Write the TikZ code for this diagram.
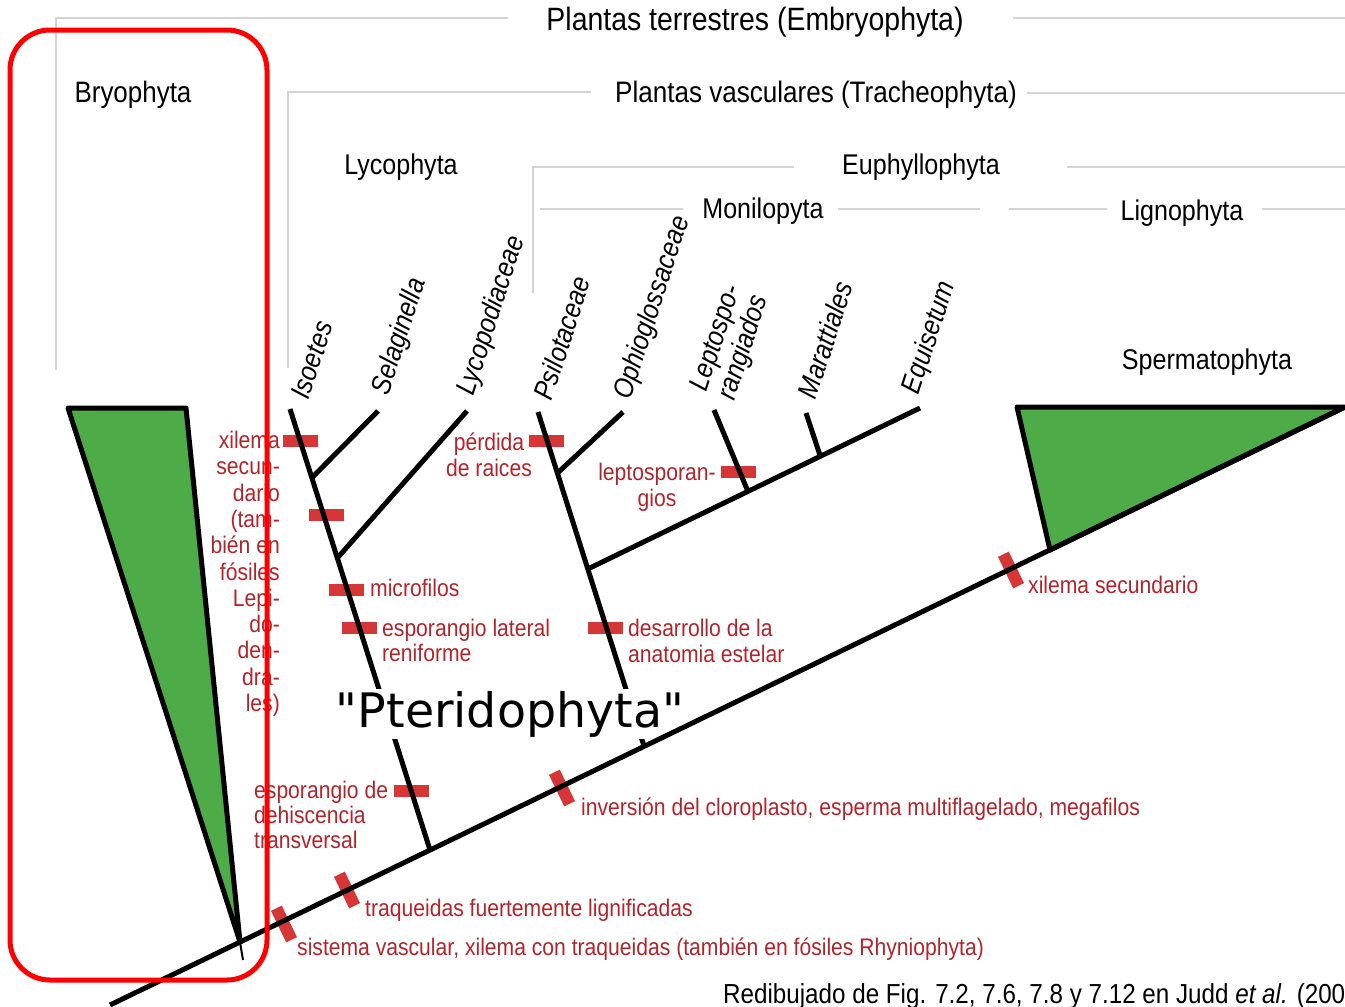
\documentclass[tikz,border=0pt]{standalone}
\usepackage{fontspec}
\setmainfont{Liberation Sans}
\newfontfamily\nf[FakeStretch=0.88]{Liberation Sans}
\newfontfamily\dv{DejaVu Sans}
\usetikzlibrary{calc}
\definecolor{labc}{RGB}{178,36,42}
\definecolor{mk}{RGB}{214,54,54}
\definecolor{grn}{RGB}{78,172,72}
\definecolor{hl}{RGB}{212,212,212}
\begin{document}
\begin{tikzpicture}[x=1pt,y=-1pt,
  hdr/.style={font=\nf\fontsize{28.5}{30}\selectfont, inner sep=0},
  lab/.style={font=\nf\fontsize{24}{26}\selectfont, text=labc, inner sep=0},
  taxon/.style={font=\nf\itshape\fontsize{28}{29}\selectfont, inner sep=0, rotate=72},
  hbar/.style={rectangle, fill=mk, draw=none, minimum width=35pt, minimum height=12pt, inner sep=0},
  tbar/.style={rectangle, fill=mk, draw=none, minimum width=12pt, minimum height=35pt, inner sep=0, rotate=25.8},
  stem/.style={line width=5pt},
  guide/.style={draw=hl, line width=1.6pt},
  clade/.style={fill=grn, draw=black, line width=5pt, line join=round}
]
\useasboundingbox (0,0) rectangle (1345,1007);
\clip (0,0) rectangle (1345,1007);

% ---------- header guide lines ----------
\draw[guide] (56,370) -- (56,18) -- (508,18);
\draw[guide] (1013,18) -- (1345,18);
\draw[guide] (288,368) -- (288,92) -- (591,92);
\draw[guide] (1027,93) -- (1345,93);
\draw[guide] (533,293) -- (533,167) -- (794,167);
\draw[guide] (1067,167) -- (1345,167);
\draw[guide] (540,209) -- (683,209);
\draw[guide] (838,209) -- (980,209);
\draw[guide] (1009,209) -- (1107,209);
\draw[guide] (1262,209) -- (1345,209);

% ---------- coordinates ----------
\coordinate (B0) at (110,1005);
\coordinate (B1) at (1345,407);
\coordinate (L0) at (290,409);
\coordinate (L1) at (430,850);
\coordinate (E0) at (538,412);
\coordinate (E1) at (644,746);
\coordinate (jSel) at ($(L0)!0.156!(L1)$);
\coordinate (jLyc) at ($(L0)!0.338!(L1)$);
\coordinate (tSel) at (378,411);
\coordinate (tLyc) at (467,411);
\coordinate (jOph) at ($(E0)!0.183!(E1)$);
\coordinate (jFern) at ($(E0)!0.470!(E1)$);
\coordinate (tOph) at (623,412);
\coordinate (tEqu) at (920,408);
\coordinate (jLep) at ($(jFern)!0.482!(tEqu)$);
\coordinate (jMar) at ($(jFern)!0.700!(tEqu)$);
\coordinate (tLep) at (714,410);
\coordinate (tMar) at (806,413);
\coordinate (bryTip) at (240,942);
\coordinate (bryEnd) at (243,960);

% ---------- character bars ----------
\node[hbar] (b1) at (300,441) {};
\node[hbar] (b2) at (326,515) {};
\node[hbar] (b3) at (346,590) {};
\node[hbar] (b4) at (359,628) {};
\node[hbar] (b5) at (546,441) {};
\node[hbar] (b6) at (738,472) {};
\node[hbar] (b7) at (605,628) {};
\node[hbar] (b8) at (411,791) {};
\node[tbar] (m1) at (284,924) {};
\node[tbar] (m2) at (347,890) {};
\node[tbar] (m3) at (562,788) {};
\node[tbar] (m4) at (1011,570) {};

% ---------- clade triangles ----------
\draw[line width=2pt] (bryTip) -- (bryEnd);
\draw[clade] (68,408) -- (186,408) -- (bryTip) -- cycle;
\draw[clade] (1017,407) -- (1345,407) -- (1050,550) -- cycle;

% ---------- stems ----------
\draw[stem] (L0) -- (L1);
\draw[stem] (jSel) -- (tSel);
\draw[stem] (jLyc) -- (tLyc);
\draw[stem] (E0) -- (E1);
\draw[stem] (jOph) -- (tOph);
\draw[stem] (jFern) -- (tEqu);
\draw[stem] (jLep) -- (tLep);
\draw[stem] (jMar) -- (tMar);

\node[font=\dv\fontsize{47.5}{50}\selectfont, fill=white, inner sep=2pt, anchor=base] (pter) at (510,727) {"Pteridophyta"};

% ---------- backbone ----------
\draw[stem] (B0) -- (B1);

% ---------- headers ----------
\node[hdr, font=\nf\fontsize{32.3}{34}\selectfont] (emb) at (755,22) {Plantas terrestres (Embryophyta)};
\node[hdr, font=\nf\fontsize{29.6}{31}\selectfont] (tra) at (816,95) {Plantas vasculares (Tracheophyta)};
\node[hdr, font=\nf\fontsize{29.5}{31}\selectfont] (bry) at (133,95) {Bryophyta};
\node[hdr] (lyc) at (401,167) {Lycophyta};
\node[hdr] (eup) at (921,167) {Euphyllophyta};
\node[hdr] (mon) at (763,211) {Monilopyta};
\node[hdr] (lig) at (1182,213) {Lignophyta};
\node[hdr] (spe) at (1207,362) {Spermatophyta};

% ---------- taxa ----------
\node[taxon] (iso) at (312,360) {Isoetes};
\node[taxon] (sel) at (400,337) {Selaginella};
\node[taxon] (lycp) at (492,316) {Lycopodiaceae};
\node[taxon] (psi) at (562,338) {Psilotaceae};
\node[taxon] (oph) at (653,308) {Ophioglossaceae};
\node[taxon, align=left] (lep) at (731,343) {Leptospo-\\rangiados};
\node[taxon] (mar) at (825,340) {Marattiales};
\node[taxon] (equ) at (930,338) {Equisetum};

% ---------- character labels ----------
\node[lab, align=right, anchor=north east, font=\nf\fontsize{24}{26.3}\selectfont] (lxs) at (280,431)
  {xilema\\secun-\\dario\\(tam-\\bién en\\fósiles\\Lepi-\\do-\\den-\\dra-\\les)};
\node[lab, align=center, anchor=north] (lpr) at (489,433) {pérdida\\de raices};
\node[lab, align=center, anchor=north] (llp) at (657,463) {leptosporan-\\gios};
\node[lab, anchor=north west] (lmi) at (370,579) {microfilos};
\node[lab, align=left, anchor=north west, font=\nf\fontsize{24}{25}\selectfont] (lel) at (382,619) {esporangio lateral\\reniforme};
\node[lab, align=left, anchor=north west] (lde) at (628,619) {desarrollo de la\\anatomia estelar};
\node[lab, align=left, anchor=north west, font=\nf\fontsize{24}{25}\selectfont] (led) at (254,781) {esporangio de\\dehiscencia\\transversal};
\node[lab, anchor=north west] (lin) at (581,798) {inversión del cloroplasto, esperma multiflagelado, megafilos};
\node[lab, anchor=north west] (ltr) at (365,899) {traqueidas fuertemente lignificadas};
\node[lab, anchor=north west] (lsi) at (297,938) {sistema vascular, xilema con traqueidas (también en fósiles Rhyniophyta)};
\node[lab, anchor=north west] (lxs2) at (1028,576) {xilema secundario};

% ---------- footer ----------
\node[font=\nf\fontsize{27.5}{29}\selectfont, inner sep=0, anchor=north west] (foot) at (723,983)
  {Redibujado de Fig. 7.2, 7.6, 7.8 y 7.12 en Judd \textit{et al.} (2002)};

% ---------- highlight box ----------
\draw[red, line width=5pt, rounded corners=40pt] (10,30) rectangle (267,980);
\end{tikzpicture}
\end{document}
